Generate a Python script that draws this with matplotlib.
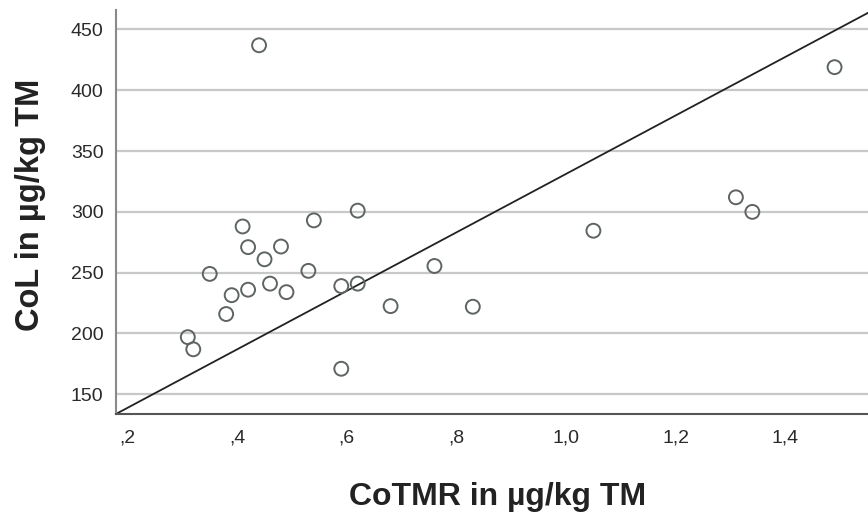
import matplotlib
matplotlib.use("Agg")
import matplotlib.pyplot as plt
from matplotlib.ticker import FuncFormatter

# Data
cotmr = [0.44, 1.49, 1.31, 1.34, 1.05, 0.62, 0.54, 0.41, 0.42, 0.48,
         0.45, 0.35, 0.53, 0.46, 0.42, 0.39, 0.49, 0.38, 0.31, 0.32,
         0.59, 0.62, 0.59, 0.68, 0.83, 0.76]
col = [437, 419, 312, 300, 284.5, 301, 293, 288, 271, 271.5,
       261, 249, 251.5, 241, 236, 231.5, 234, 216, 197, 187,
       239, 241, 171, 222.5, 222, 255.5]

x_ticks = [0.2, 0.4, 0.6, 0.8, 1.0, 1.2, 1.4]
y_ticks = [150, 200, 250, 300, 350, 400, 450]
x_range = (0.179, 1.551)
y_range = (133.8, 466.0)
ref_intercept = 90.8
ref_slope = 240.4

plt.rcParams['font.family'] = ['Liberation Sans', 'DejaVu Sans']

fig = plt.figure(figsize=(8.68, 5.12), dpi=100)
ax = fig.add_axes([116/868, 98/512, 1 - 116/868, (414-10)/512])

ax.set_xlim(*x_range)
ax.set_ylim(*y_range)

for yt in y_ticks:
    ax.axhline(yt, color='#c8c8c8', lw=1.6, zorder=1)

ax.axline((0, ref_intercept), slope=ref_slope, color='#222222', lw=1.3, zorder=2)

ax.scatter(cotmr, col, s=100, facecolors='none', edgecolors='#5e6464',
           linewidths=1.4, zorder=3)

ax.set_xticks(x_ticks)
ax.set_yticks(y_ticks)
ax.xaxis.set_major_formatter(FuncFormatter(lambda v, p: f"{v:.1f}".replace("0.", ".").replace(".", ",")))
ax.tick_params(axis='both', length=0, labelsize=14, colors='#2a2a2a')
ax.tick_params(axis='x', pad=11)
ax.tick_params(axis='y', pad=9)

for s in ['top', 'right']:
    ax.spines[s].set_visible(False)
ax.spines['left'].set_color('#8a8a8a')
ax.spines['left'].set_linewidth(1.5)
ax.spines['bottom'].set_color('#555555')
ax.spines['bottom'].set_linewidth(1.5)

fig.text(0.5 + 64/868, 1 - 497/512, "CoTMR in µg/kg TM", ha='center', va='center',
         fontsize=23, fontweight='bold', color='#222222')
fig.text(30/868, 1 - 205/512, "CoL in µg/kg TM", ha='center', va='center',
         rotation=90, fontsize=23.5, fontweight='bold', color='#222222')

fig.savefig("out.png", dpi=100)
